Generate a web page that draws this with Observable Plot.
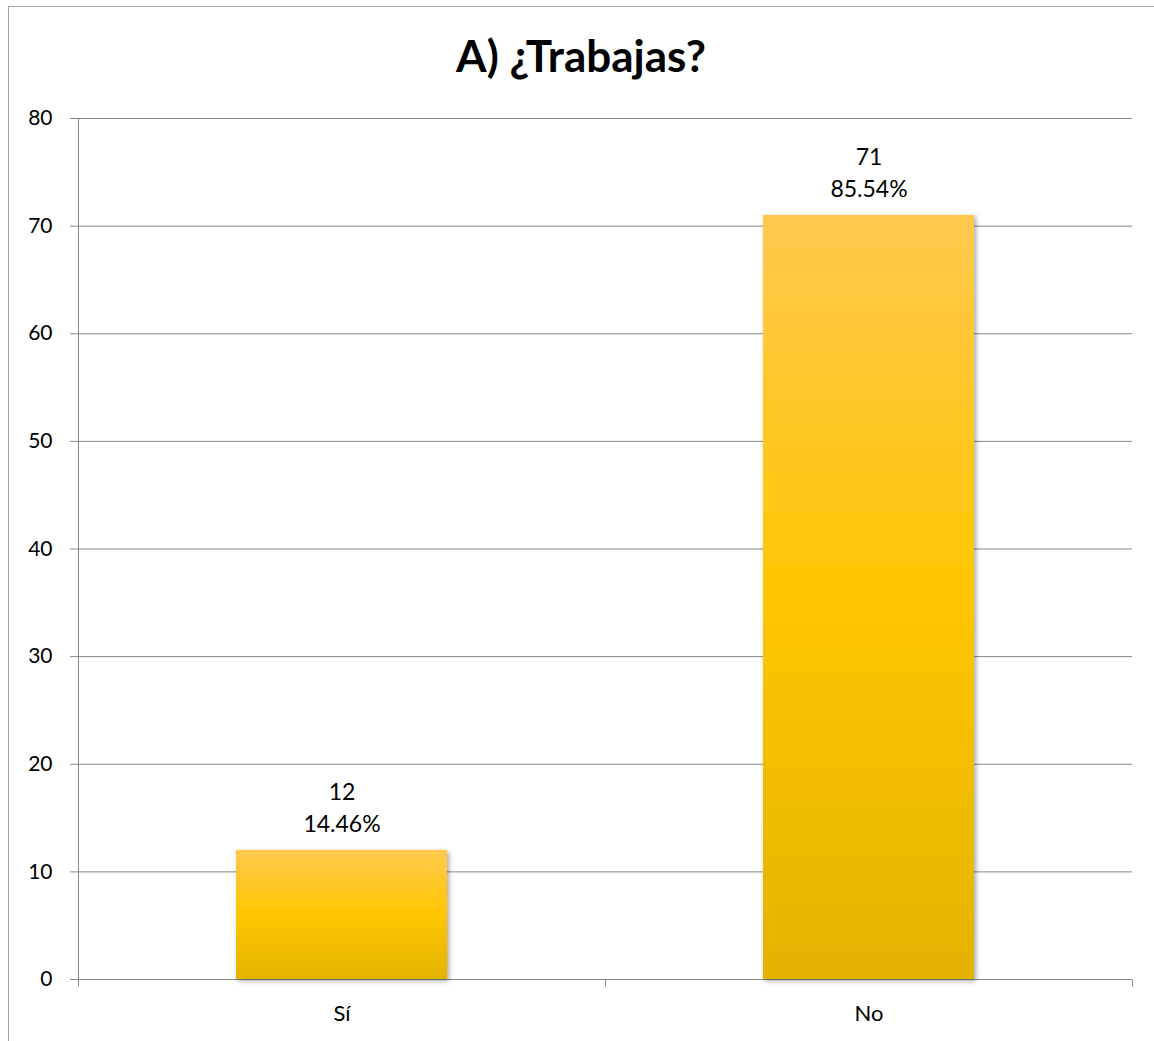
<!DOCTYPE html>
<html>
<head>
<meta charset="utf-8">
<script src="https://cdn.jsdelivr.net/npm/d3@7"></script>
<script src="https://cdn.jsdelivr.net/npm/@observablehq/plot@0.6"></script>
<style>
  html, body { margin: 0; padding: 0; background: #fff; }
  body { width: 1154px; height: 1041px; overflow: hidden; position: relative; font-family: Lato, "Open Sans", sans-serif; }
  #border { position: absolute; left: 8px; top: 6px; width: 1200px; height: 1100px;
            border-left: 1px solid #a6a6a6; border-top: 1px solid #a6a6a6; }
  #title { position: absolute; left: 8px; width: 1146px; top: 33px; text-align: center;
           font: bold 44px/44px Lato, sans-serif; color: #000; }
  #chart { position: absolute; left: 0; top: 100px; }
</style>
</head>
<body>
<div id="border"></div>
<div id="title">A) ¿Trabajas?</div>
<div id="chart"></div>
<script>
const categories = ["Sí", "No"];
const counts = [12, 71];
const percents = ["14.46%", "85.54%"];
const yTicks = [0, 10, 20, 30, 40, 50, 60, 70, 80];

const data = categories.map((c, i) => ({cat: c, count: counts[i], pct: percents[i]}));
const gridColor = "#868686";

function categoryAxis(index, scales) {
  const x = scales.x, y = scales.y;
  if (!x || !y) return null;
  const bw = typeof x.bandwidth === "function" ? x.bandwidth() : 0;
  const step = categories.length > 1 ? x(categories[1]) - x(categories[0]) : bw;
  const gap = (step - bw) / 2;
  const bounds = categories.map(c => Math.round(x(c) - gap));
  bounds.push(Math.round(x(categories[categories.length - 1]) + bw + gap));
  const y0 = Math.round(y(0)), yTop = Math.round(y(yTicks[yTicks.length - 1]));
  const g = d3.create("svg:g").attr("transform", "translate(0.5,0.5)")
    .attr("stroke", gridColor).attr("fill", "none");
  g.append("line").attr("x1", bounds[0]).attr("x2", bounds[0]).attr("y1", yTop).attr("y2", y0);
  bounds.forEach(b => g.append("line").attr("x1", b).attr("x2", b).attr("y1", y0).attr("y2", y0 + 7));
  return g.node();
}

const plot = Plot.plot({
  width: 1154,
  height: 941,
  marginLeft: 77,
  marginRight: 22,
  marginTop: 18,
  marginBottom: 62,
  style: {fontFamily: "Lato, 'Open Sans', sans-serif", color: "#000", background: "transparent"},
  x: {type: "band", domain: categories, paddingInner: 0.6, paddingOuter: 0.3, label: null},
  y: {domain: [0, 80], label: null},
  marks: [
    Plot.gridY(yTicks, {stroke: gridColor, strokeOpacity: 1}),
    Plot.axisY(yTicks, {tickSize: 7, tickPadding: 18, stroke: gridColor, fill: "#000", fontSize: 21, label: null}),
    Plot.axisX({tickSize: 0, tickPadding: 26, fill: "#000", fontSize: 22, label: null}),
    categoryAxis,
    Plot.barY(data, {x: "cat", y: "count", fill: "url(#gold)"}),
    Plot.text(data, {x: "cat", y: "count", text: d => `${d.count}\n${d.pct}`, lineAnchor: "bottom",
                     dy: -18, fontSize: 23, lineHeight: 1.4, fill: "#000"})
  ]
});

const defs = d3.select(plot).insert("defs", ":first-child");
const grad = defs.append("linearGradient").attr("id", "gold")
  .attr("x1", 0).attr("y1", 0).attr("x2", 0).attr("y2", 1);
grad.append("stop").attr("offset", "0%").attr("stop-color", "#FFC94F");
grad.append("stop").attr("offset", "50%").attr("stop-color", "#FFC600");
grad.append("stop").attr("offset", "100%").attr("stop-color", "#E3B300");
const filt = defs.append("filter").attr("id", "shadow").attr("x", "-10%").attr("y", "-10%")
  .attr("width", "130%").attr("height", "130%");
filt.append("feDropShadow").attr("dx", 2).attr("dy", 2).attr("stdDeviation", 2.5)
  .attr("flood-color", "#000").attr("flood-opacity", 0.35);
d3.select(plot).selectAll("g[aria-label='bar']").attr("filter", "url(#shadow)");

document.getElementById("chart").appendChild(plot);
</script>
</body>
</html>
